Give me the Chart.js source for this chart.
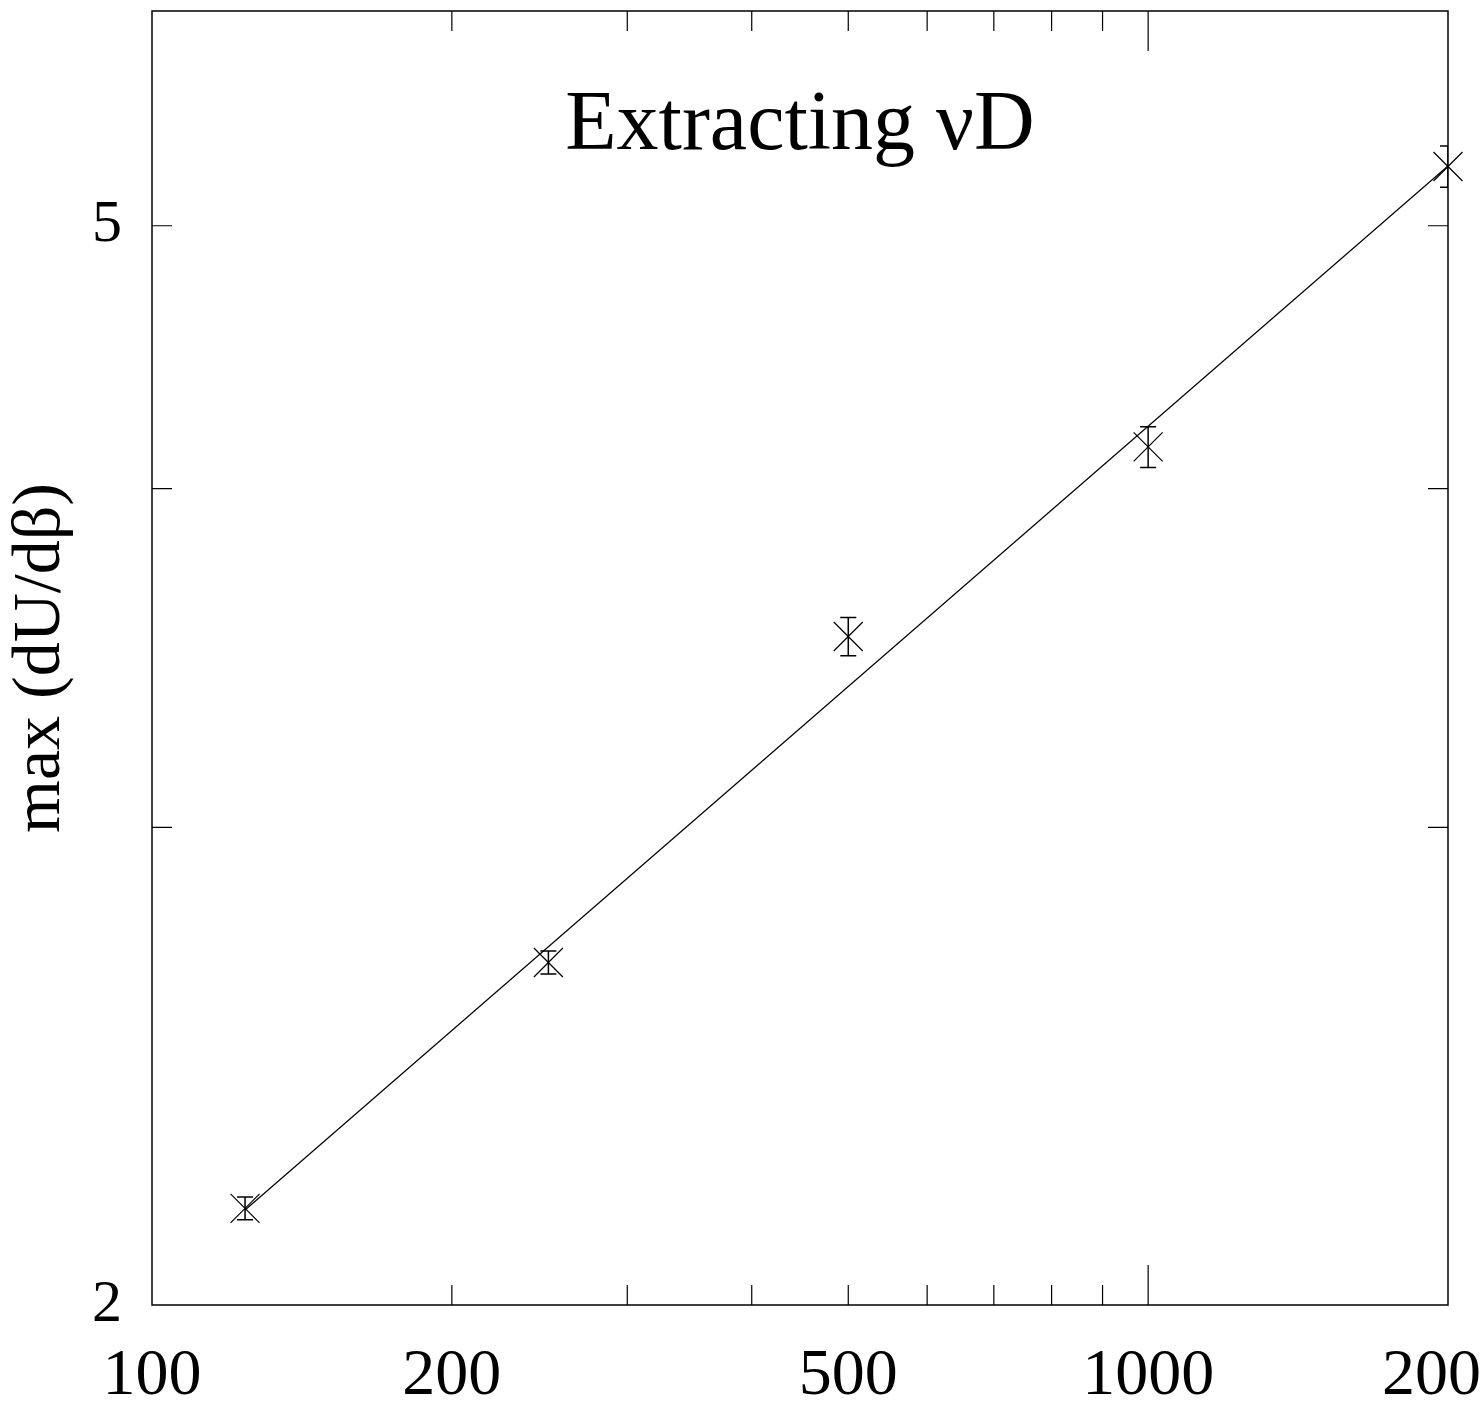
<!DOCTYPE html>
<html>
<head>
<meta charset="utf-8">
<script src="https://cdn.jsdelivr.net/npm/chart.js@4"></script>
<style>
  html, body { margin: 0; padding: 0; background: #fff; }
  canvas { display: block; }
</style>
</head>
<body>
<canvas id="chart" width="1482" height="1406"></canvas>
<script>
// lattice sizes and measured max(dU/dbeta) with errors
const sizes = [124, 250, 500, 1000, 2000]
const maxSlope = [2.171, 2.675, 3.528, 4.144, 5.258]
const maxSlopeErr = [0.021, 0.026, 0.057, 0.072, 0.092]

// power-law fit (straight on log-log)
const fitSizes = [124, 2000]
const fitValues = [2.168, 5.26]

const xTickLabels = [100, 200, 500, 1000, 2000]
const yTickLabels = [2, 5]

const serif = "'Liberation Serif', 'DejaVu Serif', serif"

// only 1..9 times a power of ten gets a tick mark
function isLogStep(value) {
    const m = value / Math.pow(10, Math.floor(Math.log10(value) + 1e-9))
    return Math.abs(m - Math.round(m)) < 1e-6
}

const errorBars = {
    id: 'errorBars',
    afterDatasetsDraw(chart) {
        const ctx = chart.ctx
        const area = chart.chartArea
        const xScale = chart.scales.x
        const yScale = chart.scales.y
        ctx.save()
        ctx.beginPath()
        ctx.rect(area.left, area.top, area.right - area.left, area.bottom - area.top)
        ctx.clip()
        ctx.strokeStyle = '#000'
        ctx.lineWidth = 1.5
        sizes.forEach((size, i) => {
            const px = xScale.getPixelForValue(size)
            const top = yScale.getPixelForValue(maxSlope[i] + maxSlopeErr[i])
            const bottom = yScale.getPixelForValue(maxSlope[i] - maxSlopeErr[i])
            ctx.beginPath()
            ctx.moveTo(px, top); ctx.lineTo(px, bottom)
            ctx.moveTo(px - 8, top); ctx.lineTo(px + 8, top)
            ctx.moveTo(px - 8, bottom); ctx.lineTo(px + 8, bottom)
            ctx.stroke()
        })
        ctx.restore()
    }
}

// box round the plot, with inward ticks on all four sides
const frame = {
    id: 'frame',
    afterDraw(chart) {
        const ctx = chart.ctx
        const { left, right, top, bottom } = chart.chartArea
        ctx.save()
        ctx.strokeStyle = '#000'
        ctx.lineWidth = 1.5
        ctx.strokeRect(left, top, right - left, bottom - top)
        ctx.lineWidth = 1.2
        ctx.beginPath()
        chart.scales.x.ticks.forEach(t => {
            if (!isLogStep(t.value)) return
            const px = chart.scales.x.getPixelForValue(t.value)
            if (px <= left + 1 || px >= right - 1) return
            const len = Number.isInteger(Math.log10(t.value)) ? 40 : 20
            ctx.moveTo(px, bottom); ctx.lineTo(px, bottom - len)
            ctx.moveTo(px, top); ctx.lineTo(px, top + len)
        })
        chart.scales.y.ticks.forEach(t => {
            if (!Number.isInteger(t.value)) return
            const py = chart.scales.y.getPixelForValue(t.value)
            if (py <= top + 1 || py >= bottom - 1) return
            ctx.moveTo(left, py); ctx.lineTo(left + 20, py)
            ctx.moveTo(right, py); ctx.lineTo(right - 20, py)
        })
        ctx.stroke()
        ctx.restore()
    }
}

Chart.defaults.color = '#000'
Chart.defaults.font.family = serif

new Chart(document.getElementById('chart'), {
    type: 'scatter',
    data: {
        datasets: [
            {
                label: 'fit',
                data: fitSizes.map((s, i) => ({ x: s, y: fitValues[i] })),
                showLine: true,
                borderColor: '#000',
                borderWidth: 1.2,
                pointRadius: 0,
                clip: false
            },
            {
                label: 'max (dU/dβ)',
                data: sizes.map((s, i) => ({ x: s, y: maxSlope[i] })),
                showLine: false,
                pointStyle: 'crossRot',
                pointRadius: 20.5,
                borderColor: '#000',
                borderWidth: 1.2,
                clip: false
            }
        ]
    },
    options: {
        responsive: false,
        animation: false,
        events: [],
        layout: { autoPadding: false, padding: { right: 34 } },
        plugins: {
            legend: { display: false },
            tooltip: { enabled: false },
            title: {
                display: true,
                fullSize: false,
                text: 'Extracting νD',
                font: { family: serif, size: 84, weight: 'normal', lineHeight: 1.2 },
                color: '#000',
                // title sits inside the plot box, so its box only takes 11px
                padding: { top: 76.6, bottom: -166.4 }
            }
        },
        scales: {
            x: {
                type: 'logarithmic',
                min: 100,
                max: 2000,
                grid: { display: false, drawTicks: false },
                border: { display: false },
                ticks: {
                    autoSkip: false,
                    maxRotation: 0,
                    padding: 32,
                    font: { family: serif, size: 66 },
                    callback: v => xTickLabels.includes(v) ? String(v) : ''
                },
                afterFit: scale => {
                    scale.height = 101
                    scale.paddingLeft = 0
                    scale.paddingRight = 0
                }
            },
            y: {
                type: 'logarithmic',
                min: 2,
                max: 6,
                grid: { display: false, drawTicks: false },
                border: { display: false },
                ticks: {
                    autoSkip: false,
                    padding: 30,
                    font: { family: serif, size: 60 },
                    callback: v => yTickLabels.includes(v) ? String(v) : ''
                },
                title: {
                    display: true,
                    text: 'max (dU/dβ)',
                    font: { family: serif, size: 68, lineHeight: 1.2 },
                    padding: 0
                },
                afterFit: scale => {
                    scale.width = 152
                    scale.paddingTop = 0
                    scale.paddingBottom = 0
                }
            }
        }
    },
    plugins: [errorBars, frame]
})
</script>
</body>
</html>
